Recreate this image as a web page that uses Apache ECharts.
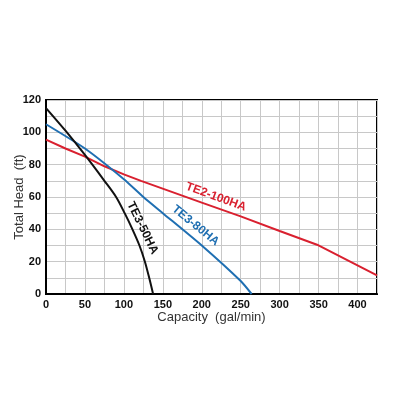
<!DOCTYPE html>
<html>
<head>
<meta charset="utf-8">
<script src="https://cdn.jsdelivr.net/npm/echarts@6/dist/echarts.min.js"></script>
<style>
  html, body { margin: 0; padding: 0; background: #fff; }
  #chart { width: 400px; height: 400px; }
</style>
</head>
<body>
<div id="chart"></div>
<script>
// pump curves: capacity (gal/min) vs total head (ft)
const te3_50ha_flow = [0, 25, 50, 75, 90, 101, 111, 120, 127, 132.5, 137.5];
const te3_50ha_head = [115, 101, 86, 70, 60, 50, 40, 30, 20, 10, 0];

const te3_80ha_flow = [0, 50, 100, 125, 150, 200, 250, 264];
const te3_80ha_head = [105, 90, 71, 60, 50, 30, 8, 0];

const te2_100ha_flow = [0, 25, 50, 75, 100, 122, 200, 250, 300, 348, 425];
const te2_100ha_head = [95.5, 90, 85, 79, 74, 70, 56.5, 48, 39, 30.5, 11.5];

const xTicks = [0, 50, 100, 150, 200, 250, 300, 350, 400];
const yTicks = [0, 20, 40, 60, 80, 100, 120];

function pairs(xs, ys) {
    return xs.map((x, i) => [x, ys[i]]);
}

const el = document.getElementById('chart');
const chart = echarts.init(el, null, {renderer: 'canvas'});

const fam = '"Liberation Sans", Arial, sans-serif';
const labelFont = 'bold 12px ' + fam;

chart.setOption({
    animation: false,
    backgroundColor: '#fff',
    grid: {left: 46, right: 23, top: 100, bottom: 106, show: true, borderColor: '#000', borderWidth: 2,
           containLabel: false, outerBoundsMode: 'none'},
    xAxis: {
        type: 'value', min: 0, max: 425, interval: 25,
        name: 'Capacity  (gal/min)', nameLocation: 'middle', nameGap: 17, nameMoveOverlap: false,
        nameTextStyle: {fontFamily: fam, fontSize: 13, color: '#333'},
        axisLine: {show: true, lineStyle: {color: '#000', width: 2}},
        axisTick: {show: false},
        splitLine: {show: true, lineStyle: {color: '#c8c8c8', width: 1}},
        axisLabel: {
            margin: 5, fontSize: 11, fontWeight: 'bold', color: '#111', fontFamily: fam,
            formatter: v => xTicks.includes(v) ? String(v) : ''
        }
    },
    yAxis: {
        type: 'value', min: 0, max: 120, interval: 10,
        name: 'Total Head  (ft)', nameLocation: 'middle', nameGap: 20, nameMoveOverlap: false,
        nameTextStyle: {fontFamily: fam, fontSize: 13, color: '#333'},
        axisLine: {show: true, lineStyle: {color: '#000', width: 2}},
        axisTick: {show: false},
        splitLine: {show: true, lineStyle: {color: '#c8c8c8', width: 1}},
        axisLabel: {
            margin: 5, fontSize: 11, fontWeight: 'bold', color: '#111', fontFamily: fam,
            formatter: v => yTicks.includes(v) ? String(v) : ''
        }
    },
    series: [
        {
            name: 'TE2-100HA', type: 'line', data: pairs(te2_100ha_flow, te2_100ha_head),
            showSymbol: false, lineStyle: {color: '#d9202f', width: 2}, z: 3
        },
        {
            name: 'TE3-80HA', type: 'line', data: pairs(te3_80ha_flow, te3_80ha_head),
            showSymbol: false, smooth: 0.2, lineStyle: {color: '#1f6fb2', width: 2}, z: 4
        },
        {
            name: 'TE3-50HA', type: 'line', data: pairs(te3_50ha_flow, te3_50ha_head),
            showSymbol: false, smooth: 0.3, lineStyle: {color: '#111', width: 2}, z: 5
        }
    ],
    graphic: [
        {type: 'text', z: 100, x: 216, y: 197, rotation: -20 * Math.PI / 180,
         style: {text: 'TE2-100HA', font: labelFont, fill: '#d9202f', align: 'center', verticalAlign: 'middle'}},
        {type: 'text', z: 100, x: 195.5, y: 225.5, rotation: -39 * Math.PI / 180,
         style: {text: 'TE3-80HA', font: labelFont, fill: '#1f6fb2', align: 'center', verticalAlign: 'middle'}},
        {type: 'text', z: 100, x: 142.5, y: 228, rotation: -64 * Math.PI / 180,
         style: {text: 'TE3-50HA', font: labelFont, fill: '#111', align: 'center', verticalAlign: 'middle'}}
    ]
});
</script>
</body>
</html>
